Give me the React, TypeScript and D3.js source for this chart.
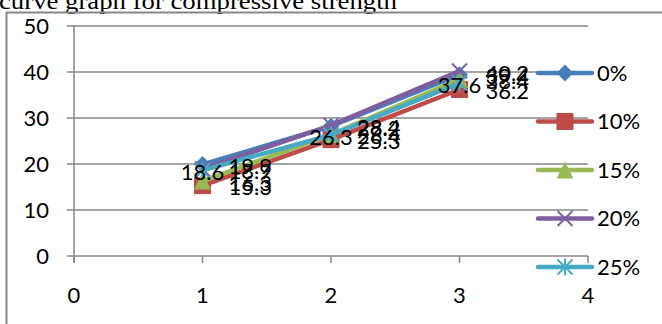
import React from "react";
import * as d3 from "d3";

// Test ages (x positions) and compressive strength for each replacement level
const categories = [1, 2, 3];
const seriesNames = ["0%", "10%", "15%", "20%", "25%"];
const strength0 = [19.9, 28.2, 39.4];
const strength10 = [15.3, 25.3, 36.2];
const strength15 = [16.3, 26.4, 38.4];
const strength20 = [18.9, 28.4, 40.2];
const strength25 = [18.6, 26.3, 37.6];
const xTicks = [0, 1, 2, 3, 4];
const yTicks = [0, 10, 20, 30, 40, 50];
const titleText = "curve graph for compressive strength";

const seriesValues = [strength0, strength10, strength15, strength20, strength25];
const colors = ["#4A7EBB", "#BE4B48", "#98B954", "#7D5FA0", "#46AAC5"];
const markerTypes = ["diamond", "square", "triangle", "x", "star"];

const W = 662;
const H = 324;
const FONT = "Lato, 'Noto Sans', sans-serif";
const GRID = "#878787";
const FS = 22;

function Marker({ type, cx, cy, color }: { type: string; cx: number; cy: number; color: string }) {
  const s = 8.5;
  if (type === "diamond") {
    return <path d={`M${cx},${cy - s}L${cx + s},${cy}L${cx},${cy + s}L${cx - s},${cy}Z`} fill={color} />;
  }
  if (type === "square") {
    return <rect x={cx - s} y={cy - s} width={2 * s} height={2 * s} fill={color} />;
  }
  if (type === "triangle") {
    return <path d={`M${cx},${cy - s}L${cx + s},${cy + s}L${cx - s},${cy + s}Z`} fill={color} />;
  }
  const r = 7.5;
  const cross = `M${cx - r},${cy - r}L${cx + r},${cy + r}M${cx - r},${cy + r}L${cx + r},${cy - r}`;
  if (type === "x") {
    return <path d={cross} stroke={color} strokeWidth={2} fill="none" />;
  }
  return (
    <path
      d={`${cross}M${cx},${cy - r - 1}L${cx},${cy + r + 1}`}
      stroke={color}
      strokeWidth={2}
      fill="none"
    />
  );
}

export default function App() {
  const x = d3.scaleLinear().domain([0, 4]).range([74, 588]);
  const y = d3.scaleLinear().domain([0, 50]).range([256, 26]);
  const line = d3
    .line<number>()
    .x((_, i) => x(categories[i]))
    .y((v) => y(v));

  const legendY = d3.scalePoint<string>().domain(seriesNames).range([73, 267]);

  return (
    <svg
      width={W}
      height={H}
      style={{ position: "fixed", left: 0, top: 0, background: "#fff" }}
      fontFamily={FONT}
    >
      {/* title, partially clipped by the top edge */}
      <text
        x={-1}
        y={9}
        fontFamily="'Liberation Serif', 'Times New Roman', serif"
        fontSize={24}
        textLength={398}
        lengthAdjust="spacingAndGlyphs"
        fill="#000"
      >
        {titleText}
      </text>

      {/* chart frame */}
      <path d={`M6.5,${H + 5}V12.5H${W + 5}`} stroke={GRID} strokeWidth={2} fill="none" />

      {/* horizontal gridlines with left ticks */}
      {yTicks.map((t) => (
        <g key={`y${t}`}>
          <line x1={67} x2={x(4)} y1={y(t)} y2={y(t)} stroke={GRID} strokeWidth={1.5} />
          <text x={49} y={y(t)} dy="0.35em" textAnchor="end" fontSize={FS} fill="#000">
            {t}
          </text>
        </g>
      ))}

      {/* y axis */}
      <line x1={x(0)} x2={x(0)} y1={y(50)} y2={y(0) + 7} stroke={GRID} strokeWidth={1.5} />

      {/* x ticks and labels */}
      {xTicks.map((t) => (
        <g key={`x${t}`}>
          <line x1={x(t)} x2={x(t)} y1={y(0)} y2={y(0) + 7} stroke={GRID} strokeWidth={1.5} />
          <text x={x(t)} y={295} dy="0.35em" textAnchor="middle" fontSize={FS} fill="#000">
            {t}
          </text>
        </g>
      ))}

      {/* series lines and markers */}
      {seriesValues.map((vals, si) => (
        <g key={`s${si}`}>
          <path
            d={line(vals) ?? ""}
            stroke={colors[si]}
            strokeWidth={4.5}
            fill="none"
            strokeLinejoin="round"
            strokeLinecap="round"
          />
          {vals.map((v, i) => (
            <Marker key={i} type={markerTypes[si]} cx={x(categories[i])} cy={y(v)} color={colors[si]} />
          ))}
        </g>
      ))}

      {/* data labels */}
      {seriesValues.map((vals, si) =>
        vals.map((v, i) => {
          const centered = si === 4;
          return (
            <text
              key={`l${si}-${i}`}
              x={centered ? x(categories[i]) : x(categories[i]) + 26}
              y={y(v) + 2}
              dy="0.35em"
              textAnchor={centered ? "middle" : "start"}
              fontSize={FS}
              fill="#000"
            >
              {v}
            </text>
          );
        })
      )}

      {/* legend */}
      {seriesNames.map((name, si) => {
        const ly = legendY(name) ?? 0;
        return (
          <g key={`lg${si}`}>
            <line x1={538} x2={592} y1={ly} y2={ly} stroke={colors[si]} strokeWidth={4.5} strokeLinecap="round" />
            <Marker type={markerTypes[si]} cx={565} cy={ly} color={colors[si]} />
            <text x={597} y={ly} dy="0.35em" fontSize={FS} fill="#000">
              {name}
            </text>
          </g>
        );
      })}
    </svg>
  );
}
